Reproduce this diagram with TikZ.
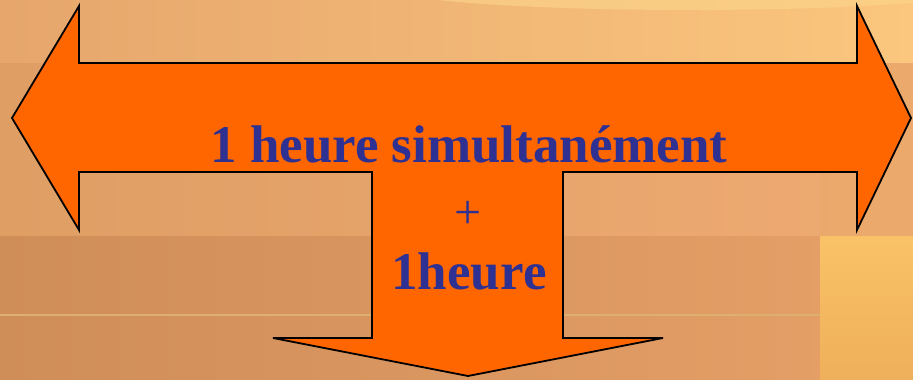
\documentclass[tikz,border=0pt]{standalone}
\usepackage{fontspec}
\setmainfont{Liberation Serif}
\definecolor{arrowfill}{HTML}{FF6600}
\definecolor{textblue}{HTML}{2E3192}
\definecolor{bgTopL}{HTML}{E6A66C}
\definecolor{bgTopR}{HTML}{FBC67E}
\definecolor{bgMidL}{HTML}{DE9E64}
\definecolor{bgMidR}{HTML}{EEAA72}
\definecolor{bgLowL}{HTML}{CF8D58}
\definecolor{bgLowR}{HTML}{E6A068}
\definecolor{bgStripT}{HTML}{FAC266}
\definecolor{bgStripB}{HTML}{EEB05A}
\definecolor{bgStripMid}{HTML}{EAAA68}
\definecolor{bgGlow}{HTML}{FCD68C}
\definecolor{bgLine}{HTML}{DDB070}
\tikzset{
  arrowshape/.style={fill=arrowfill, draw=black, line width=1.8pt, line join=miter},
  bigtext/.style={text=textblue, font=\fontsize{53}{60}\selectfont\bfseries, inner sep=0pt},
  plustext/.style={text=textblue, font=\fontsize{48}{60}\selectfont, inner sep=0pt}
}
\begin{document}
\begin{tikzpicture}[x=1pt,y=1pt]
\useasboundingbox (0,0) rectangle (913,380);
% background bands
\fill[left color=bgTopL, right color=bgTopR] (0,316) rectangle (913,380);
\begin{scope}
\clip (0,316) rectangle (913,380);
\fill[bgGlow, opacity=0.6] (690,392) ellipse (300 and 22);
\end{scope}
\fill[left color=bgMidL, right color=bgMidR] (0,143) rectangle (913,316);
\fill[bgStripMid, opacity=0.5] (820,143) rectangle (913,316);
\fill[left color=bgLowL, right color=bgLowR] (0,0) rectangle (913,143);
\shade[top color=bgStripT, bottom color=bgStripB] (820,0) rectangle (913,143);
\fill[bgLine] (0,64) rectangle (820,66);
% three-headed arrow
\draw[arrowshape]
  (12,262) -- (79,374) -- (79,317) -- (857,317) -- (857,374) -- (911,262)
  -- (857,150) -- (857,208) -- (563,208) -- (563,42) -- (663,42)
  -- (468,4) -- (273,42) -- (372,42) -- (372,208) -- (79,208)
  -- (79,150) -- cycle;
% texts
\node[bigtext, anchor=base] (t1) at (469,217) {1 heure simultanément};
\node[plustext, anchor=center] (t2) at (468,165) {+};
\node[bigtext, anchor=base] (t3) at (469,90) {1heure};
\end{tikzpicture}
\end{document}
